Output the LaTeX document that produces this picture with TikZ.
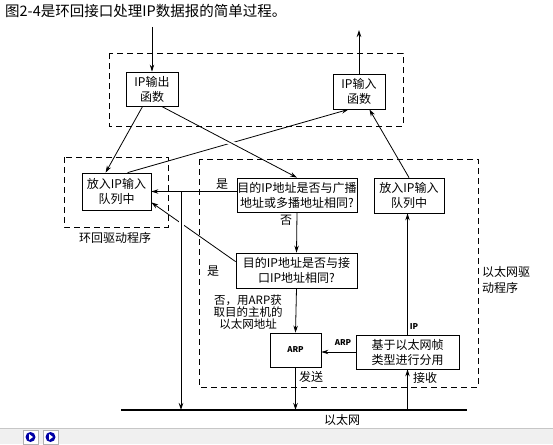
\documentclass[tikz,border=0pt]{standalone}
\usepackage{fontspec}
\setmainfont{Noto Sans CJK SC}
\usetikzlibrary{arrows.meta}

\begin{document}
\begin{tikzpicture}[x=1pt,y=-1pt,
  >={Stealth[length=7pt,width=4.5pt]},
  box/.style={draw,line width=0.8pt,align=center,inner sep=0pt,font=\fontsize{12}{15}\selectfont},
  region/.style={draw,dash pattern=on 6pt off 4pt,line width=1pt},
  lbl/.style={font=\fontsize{12}{15}\selectfont,inner sep=0pt,align=center},
  small/.style={font=\bfseries\fontsize{8}{10}\selectfont},
  link/.style={->,line width=0.8pt},
  gap/.style={preaction={draw=white,line width=5pt,-,shorten <=8pt,shorten >=12pt}}]
  \useasboundingbox (0,0) rectangle (553,444);

  \node[anchor=west,inner sep=0pt,font=\fontsize{14.5}{16}\selectfont] (title) at (5,11) {图2-4是环回接口处理IP数据报的简单过程。};

  \node[box,minimum width=52pt,minimum height=34pt] (out) at (152,89) {IP输出\\函数};
  \node[box,minimum width=52pt,minimum height=35pt] (in) at (359,91.5) {IP输入\\函数};
  \node[box,minimum width=69pt,minimum height=37pt] (qleft) at (116.5,191.5) {放入IP输入\\队列中};
  \node[box,minimum width=120pt,minimum height=34pt] (dec1) at (297,195) {目的IP地址是否与广播\\地址或多播地址相同?};
  \node[box,minimum width=121pt,minimum height=35pt] (dec2) at (296.5,270.5) {目的IP地址是否与接\\口IP地址相同?};
  \node[box,minimum width=70pt,minimum height=35pt] (qright) at (409,195.5) {放入IP输入\\队列中};
  \node[box,small,minimum width=51pt,minimum height=34pt] (arp) at (295.5,350) {ARP};
  \node[box,minimum width=103pt,minimum height=34pt] (demux) at (407.5,352) {基于以太网帧\\类型进行分用};

  \coordinate (src) at (152,27);
  \coordinate (dst) at (359,30);
  \coordinate (tap) at (181,191.5);
  \coordinate (e1) at (121,410);
  \coordinate (e2) at (467,410);

  \draw[link] (src) -- (out);
  \draw[link] (in) -- (dst);
  \draw[link] ([xshift=46pt]qleft.north west) -- ([xshift=16pt]in.south west);
  \draw[link,gap] ([xshift=36pt]out.south west) -- (dec1.north);
  \draw[link] ([xshift=17pt]out.south west) -- ([xshift=24pt]qleft.north west);
  \draw[link] (qright.north) -- ([xshift=-16pt]in.south east);
  \draw[link] (dec1.west |- qleft.east) -- (qleft.east);
  \draw[link] ([yshift=-9pt]dec2.north west) -- ([yshift=8pt]qleft.south east);
  \draw[link,gap] (tap) -- (tap |- e1);
  \draw[link] (dec1.south) -- (dec2.north);
  \draw[link] (dec2.south) -- (arp.north);
  \draw[link] (demux.west) -- (demux.west -| arp.east);
  \draw[link] (demux.north) -- (demux.north |- qright.south);
  \draw[link] (arp.south) -- (arp.south |- e1);
  \draw[link] (demux.south |- e1) -- (demux.south);
  \draw[line width=2pt] (e1) -- (e2);

  \draw[region] (109,53) rectangle (403,126);
  \draw[region] (64,157) rectangle (168,227);
  \draw[region] (199,159) rectangle (478,387);

  \node[lbl] (yes1) at (222,184) {是};
  \node[lbl] (no1) at (286,220) {否};
  \node[lbl] (yes2) at (213,271) {是};
  \node[lbl,font=\fontsize{11.5}{11.8}\selectfont] (no2) at (248,312) {否，用ARP获\\取目的主机的\\以太网地址};
  \node[lbl,small] (arplbl) at (343,343) {ARP};
  \node[lbl,small] (iplbl) at (414,327) {IP};
  \node[lbl] (send) at (311,377) {发送};
  \node[lbl] (recv) at (425,378) {接收};
  \node[lbl] (ether) at (342,420) {以太网};
  \node[lbl] (loopname) at (115,238) {环回驱动程序};
  \node[lbl,anchor=west,align=left,font=\fontsize{12}{16}\selectfont] (ethname) at (482,280) {以太网驱\\动程序};

  \fill[gray!12] (0,428) rectangle (553,444);
  \draw[gray!45] (0,428.5) -- (553,428.5);
  \foreach \bx in {23,43} {
    \draw[gray!60,fill=white] (\bx,430) rectangle ++(15,14);
    \fill[blue!65!black] (\bx+7.5,437) circle (5pt);
    \fill[white] (\bx+6,434) -- (\bx+10,437) -- (\bx+6,440) -- cycle;
  }
\end{tikzpicture}
\end{document}
